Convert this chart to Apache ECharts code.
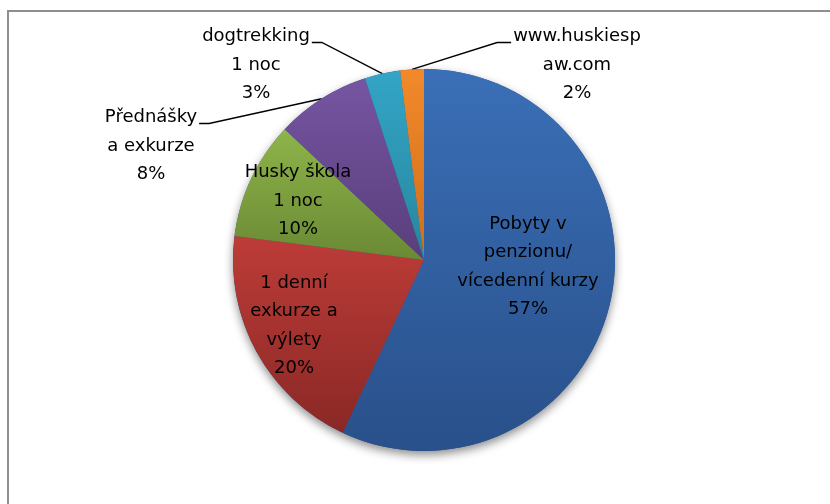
<!DOCTYPE html>
<html><head><meta charset="utf-8">
<script src="https://cdn.jsdelivr.net/npm/echarts@6/dist/echarts.min.js"></script>
<style>html,body{margin:0;padding:0;background:#fff}#c{width:830px;height:504px}</style>
</head><body><div id="c"></div>
<script>
// ---- data ----
const categories = ['Pobyty v\npenzionu/\nvícedenní kurzy', '1 denní\nexkurze a\nvýlety', 'Husky škola\n1 noc', 'Přednášky\na exkurze', 'dogtrekking\n1 noc', 'www.huskiesp\naw.com'];
const values = [57, 20, 10, 8, 3, 2];
const outsideLabel = [false, false, false, true, true, true];

// ---- styles / layout ----
const topColors = ['#3A6FB7', '#BD3C38', '#8EB44A', '#7655A2', '#33A5C6', '#F28A2A'];
const bottomColors = ['#29508A', '#8A2825', '#6A8934', '#593E7B', '#27869F', '#D06E1C'];
const CENTER = [424, 260];
const RADIUS = 191;
const LABEL_POS = [[528, 267], [294, 326], [298, 201], [151, 146], [256, 65], [577, 65]];
const LINE_H = 28.5;
const FONT = 'DejaVu Sans';

const total = values.reduce((a, b) => a + b, 0);

const chart = echarts.init(document.getElementById('c'), null, {renderer: 'canvas'});
chart.setOption({
  animation: false,
  backgroundColor: '#fff',
  graphic: [{
    type: 'rect', silent: true,
    shape: {x: 8, y: 11, width: 1000, height: 1000},
    style: {fill: 'none', stroke: '#8f8f8f', lineWidth: 2}
  }],
  series: [
    {
      type: 'pie', silent: true, z: 1,
      center: CENTER, radius: RADIUS, startAngle: 90,
      label: {show: false}, labelLine: {show: false},
      emphasis: {disabled: true},
      data: [{value: total, itemStyle: {color: '#2A5189', shadowBlur: 10, shadowColor: 'rgba(0,0,0,0.45)', shadowOffsetY: 4}}]
    },
    {
      type: 'pie', z: 2,
      center: CENTER, radius: RADIUS, startAngle: 90, clockwise: true,
      avoidLabelOverlap: false,
      emphasis: {disabled: true},
      itemStyle: {borderWidth: 0},
      label: {
        show: true,
        formatter: p => p.name + '\n' + p.value + '%',
        fontFamily: FONT, fontSize: 18, color: '#000', lineHeight: LINE_H,
        textBorderWidth: 0
      },
      labelLine: {lineStyle: {color: '#000', width: 1.4}},
      labelLayout: function (p) {
        const i = p.dataIndex;
        const pos = LABEL_POS[i];
        const n = categories[i].split('\n').length + 1;
        const res = {x: pos[0], y: pos[1], align: 'center', verticalAlign: 'middle'};
        if (outsideLabel[i] && p.labelLinePoints) {
          const w = p.labelRect.width;
          const p0 = p.labelLinePoints[0];
          const lineY = pos[1] - LINE_H * (n - 1) / 2 + 6;
          if (pos[0] < p0[0]) {
            const edge = pos[0] + w / 2 + 2;
            res.labelLinePoints = [p0, [edge + 10, lineY], [edge, lineY]];
          } else {
            const edge = pos[0] - w / 2 - 2;
            res.labelLinePoints = [p0, [edge - 14, lineY], [edge, lineY]];
          }
        }
        return res;
      },
      data: categories.map((c, i) => ({
        name: c, value: values[i],
        label: {position: outsideLabel[i] ? 'outside' : 'inside'},
        labelLine: {show: outsideLabel[i]},
        itemStyle: {color: new echarts.graphic.LinearGradient(0, 0, 0, 1, [
          {offset: 0, color: topColors[i]}, {offset: 1, color: bottomColors[i]}])}
      }))
    }
  ]
});
</script>
</body></html>
